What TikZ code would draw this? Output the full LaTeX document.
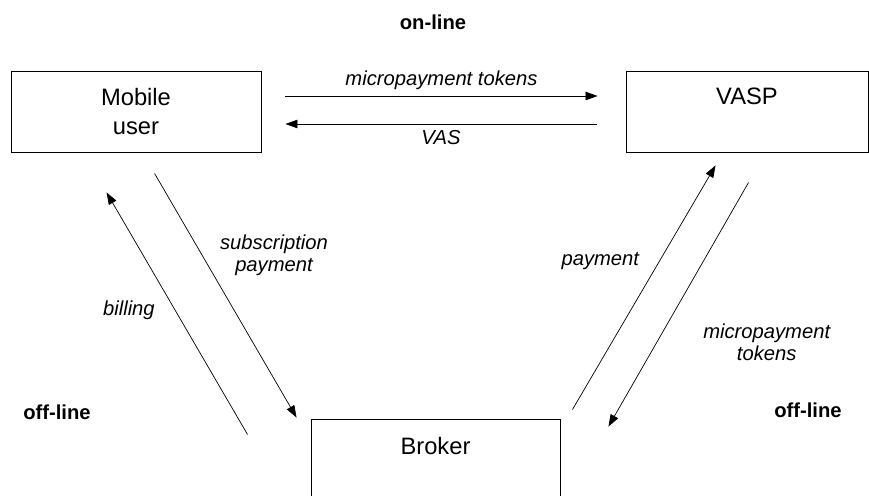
\documentclass[tikz,border=0pt]{standalone}
\usepackage{fontspec}
\setmainfont{Liberation Sans}
\usetikzlibrary{arrows.meta}

\tikzset{
	>={Triangle[length=0.24cm,width=0.17cm]},
	party/.style={draw,line width=0.5pt,minimum width=#1,minimum height=1.62cm,align=center,font=\fontsize{13.5}{17}\selectfont},
	msg/.style={->,line width=0.4pt},
	lbl/.style={font=\fontsize{11.5}{12.5}\selectfont\itshape,align=center},
	zone/.style={font=\fontsize{11.5}{13}\selectfont\bfseries}
}

\begin{document}
\begin{tikzpicture}
	\clip (0,0) rectangle (17.38,9.9);

	\node[party=5cm] (mobile) at (2.72,7.67) {Mobile\\user};

	\node[party=4.84cm] (vasp) at (14.94,7.67) {VASP\\~};

	\node[party=4.98cm,font=\fontsize{13.5}{15}\selectfont] (broker) at (8.71,0.71) {Broker\\~};

	\draw[msg] ([xshift=0.48cm,yshift=0.31cm]mobile.east) -- ([xshift=-0.56cm,yshift=0.31cm]vasp.west) node[lbl,above,midway] {micropayment tokens};

	\draw[msg,<-] ([xshift=0.48cm,yshift=-0.25cm]mobile.east) -- ([xshift=-0.58cm,yshift=-0.25cm]vasp.west) node[lbl,below,midway] {VAS};

	\draw[msg] ([xshift=2.88cm,yshift=-0.42cm]mobile.south west) -- ([xshift=-0.28cm,yshift=0.02cm]broker.north west) node[lbl,right,pos=0.335,xshift=0.235cm] {subscription\\payment};

	\draw[msg] ([xshift=-1.26cm,yshift=-0.32cm]broker.north west) -- ([xshift=1.92cm,yshift=-0.8cm]mobile.south west) node[lbl,left,pos=0.515,xshift=-0.28cm] {billing};

	\draw[msg] ([xshift=0.24cm,yshift=0.18cm]broker.north east) -- ([xshift=1.8cm,yshift=-0.26cm]vasp.south west) node[lbl,left,pos=0.61,xshift=-0.29cm] {payment};

	\draw[msg] ([xshift=2.46cm,yshift=-0.6cm]vasp.south west) -- ([xshift=0.96cm,yshift=-0.16cm]broker.north east) node[lbl,right,pos=0.653,xshift=0.8cm] {micropayment\\tokens};

	\node[zone] (online) at (8.66,9.46) {on-line};

	\node[zone] (offleft) at (1.14,1.66) {off-line};

	\node[zone] (offright) at (16.16,1.70) {off-line};
\end{tikzpicture}
\end{document}
